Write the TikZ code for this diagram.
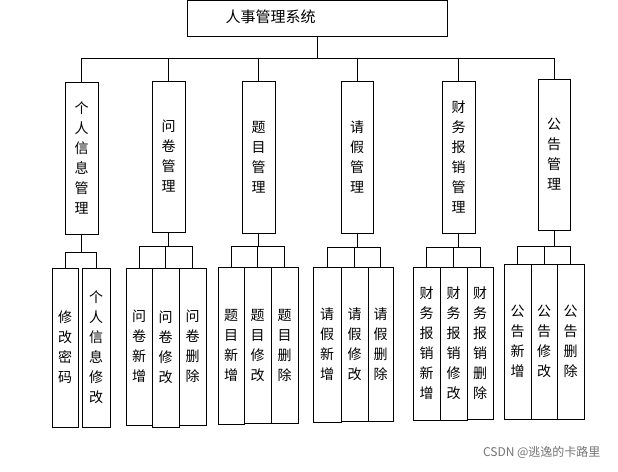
\documentclass[tikz,border=0pt]{standalone}
\usepackage{fontspec}
\setmainfont{Noto Sans CJK SC}
\begin{document}
\begin{tikzpicture}[x=1pt,y=1pt,
  bx/.style={draw,line width=0.8pt,inner sep=0pt,align=center,font=\fontsize{14}{20}\selectfont},
  ln/.style={line width=0.8pt}]
\useasboundingbox (0,0) rectangle (618,-471);
% root
\node[bx,minimum width=260,minimum height=36] (root) at (317,-18) {};
\node[font=\fontsize{15}{18}\selectfont,anchor=west] (roott) at (222,-17) {人事管理系统};
% level 2: name, left, right, top, bottom, text
\foreach \n/\l/\r/\t/\b/\s in {a/65/98/82/234/个\\人\\信\\息\\管\\理,
  b/152/185/81/232/问\\卷\\管\\理,
  c/242/275/81/233/题\\目\\管\\理,
  d/341/373/81/233/请\\假\\管\\理,
  e/442/475/81/233/财\\务\\报\\销\\管\\理,
  f/538/570/79/230/公\\告\\管\\理}{
  \node[bx,minimum width=\r-\l,minimum height=\b-\t] (\n) at ({(\l+\r)/2},{-(\t+\b)/2}) {\s};
  \draw[ln] (\n.north) -- (\n.north |- 0,-58);
}
\draw[ln] (root.south) -- (root.south |- 0,-58);
\draw[ln] (a.north |- 0,-58) -- (f.north |- 0,-58);
% level 3
\foreach \n/\l/\r/\t/\b/\s in {a1/52/78/268/427/修\\改\\密\\码,
  a2/82/110/268/427/个\\人\\信\\息\\修\\改,
  b1/126/152/268/425/问\\卷\\新\\增,
  b2/152/179/268/427/问\\卷\\修\\改,
  b3/179/206/268/425/问\\卷\\删\\除,
  c1/218/244/267/424/题\\目\\新\\增,
  c2/244/271/267/423/题\\目\\修\\改,
  c3/271/298/267/423/题\\目\\删\\除,
  d1/313/341/267/422/请\\假\\新\\增,
  d2/341/368/267/421/请\\假\\修\\改,
  d3/368/393/267/421/请\\假\\删\\除,
  e1/413/440/267/420/财\\务\\报\\销\\新\\增,
  e2/440/467/267/420/财\\务\\报\\销\\修\\改,
  e3/467/493/267/419/财\\务\\报\\销\\删\\除,
  f1/504/531/264/419/公\\告\\新\\增,
  f2/531/557/264/419/公\\告\\修\\改,
  f3/557/584/264/419/公\\告\\删\\除}{
  \node[bx,minimum width=\r-\l,minimum height=\b-\t] (\n) at ({(\l+\r)/2},{-(\t+\b)/2}) {\s};
}
% group connectors
\draw[ln] (a.south) -- (a.south |- 0,-252);
\draw[ln] (65,-252) coordinate (ga) -- (96,-252) coordinate (gb);
\draw[ln] (ga) -- (ga |- a1.north);
\draw[ln] (gb) -- (gb |- a2.north);
\foreach \p/\y in {b/246,c/246,d/247,e/247,f/246}{
  \draw[ln] (\p.south) -- (\p.south |- 0,-\y);
  \draw[ln] (\p1.north |- 0,-\y) -- (\p3.north |- 0,-\y);
  \draw[ln] (\p1.north |- 0,-\y) -- (\p1.north);
  \draw[ln] (\p2.north |- 0,-\y) -- (\p2.north);
  \draw[ln] (\p3.north |- 0,-\y) -- (\p3.north);
}
\node[text=black!55,font=\fontsize{12}{14}\selectfont,anchor=east] (wm) at (604,-452) {CSDN @逃逸的卡路里};
\end{tikzpicture}
\end{document}
